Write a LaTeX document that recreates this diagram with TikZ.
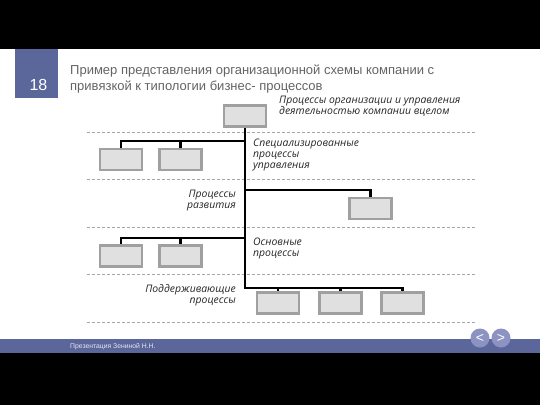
\documentclass[tikz,border=0pt]{standalone}
\usepackage{fontspec}
\setmainfont{Liberation Sans}
\newfontfamily\labelfont{Open Sans}
\usetikzlibrary{positioning}

\definecolor{slideblue}{RGB}{91,102,155}
\definecolor{navblue}{RGB}{140,147,195}
\definecolor{titlegray}{RGB}{100,100,100}
\definecolor{boxfill}{RGB}{224,224,224}
\definecolor{boxline}{RGB}{160,160,160}

\begin{document}
\begin{tikzpicture}[x=1pt, y=-1pt,
    box/.style={draw=boxline, line width=2.2pt, fill=boxfill, minimum width=42pt, minimum height=21pt, inner sep=0pt},
    conn/.style={line width=2.6pt, black},
    lbl/.style={font=\labelfont\itshape\fontsize{10.4}{11}\selectfont, text=black!85, inner sep=0pt},
    sep/.style={gray!70, line width=0.5pt, dash pattern=on 3pt off 2pt},
    nav/.style={circle, fill=navblue, minimum size=19pt, inner sep=0pt, text=white, font=\fontsize{14}{14}\selectfont},
]
\useasboundingbox (0,0) rectangle (540,405);

% Slide background
\fill[black] (0,0) rectangle (540,49);
\fill[white] (0,49) rectangle (540,339);
\fill[slideblue] (0,339) rectangle (540,353);
\fill[black] (0,353) rectangle (540,405);

% Slide number and title
\fill[slideblue] (15,49) rectangle (58,98);
\node[text=white, font=\fontsize{16}{16}\selectfont, inner sep=0pt] (num) at (38.5,85) {18};
\node[anchor=north west, align=left, inner sep=0pt, text=titlegray,
      font=\fontsize{13}{16}\selectfont] (title) at (70,65)
      {Пример представления организационной схемы компании с\\привязкой к типологии бизнес- процессов};

% Level separators
\foreach \y in {132,179,227,274,322}
  \draw[sep] (87,\y) -- (476,\y);

% Boxes
\node[box] (top) at (245,116) {};
\node[box] (s1) at (121,159.5) {};
\node[box] (s2) at (180.5,159.5) {};
\node[box] (r1) at (370.5,208.5) {};
\node[box] (o1) at (121,256) {};
\node[box] (o2) at (180.5,256) {};
\node[box] (p1) at (278,303) {};
\node[box] (p2) at (340.5,303) {};
\node[box] (p3) at (402.5,303) {};

% Trunk and junctions
\coordinate (j1) at (245,141);
\coordinate (j2) at (245,190);
\coordinate (j3) at (245,238);
\coordinate (tend) at (245,288);

% Connectors
\draw[conn] (top.south) -- (tend) -| (p3.north);
\draw[conn] (j1) -| (s1.north);
\draw[conn] (j1 -| s2.north) -- (s2.north);
\draw[conn] (j2) -| (r1.north);
\draw[conn] (j3) -| (o1.north);
\draw[conn] (j3 -| o2.north) -- (o2.north);
\draw[conn] (tend -| p1.north) -- (p1.north);
\draw[conn] (tend -| p2.north) -- (p2.north);

% Level labels
\node[lbl, anchor=north west, align=left] (ltop) at (279,95.5)
      {Процессы организации и управления\\деятельностью компании вцелом};
\node[lbl, anchor=north west, align=left] (lspec) at (253,138.5)
      {Специализированные\\процессы\\управления};
\node[lbl, anchor=north east, align=right] (ldev) at (236,190)
      {Процессы\\развития};
\node[lbl, anchor=north west, align=left] (lmain) at (253,237.5)
      {Основные\\процессы};
\node[lbl, anchor=north east, align=right] (lsup) at (236,284.5)
      {Поддерживающие\\процессы};

% Footer
\node[anchor=west, inner sep=0pt, text=white!85!slideblue, font=\fontsize{6.8}{6.8}\selectfont] (footer) at (70,346.5)
      {Презентация Зениной Н.Н.};
\node[nav] (prev) at (480,338) {<};
\node[nav] (next) at (501,338) {>};

\end{tikzpicture}
\end{document}
